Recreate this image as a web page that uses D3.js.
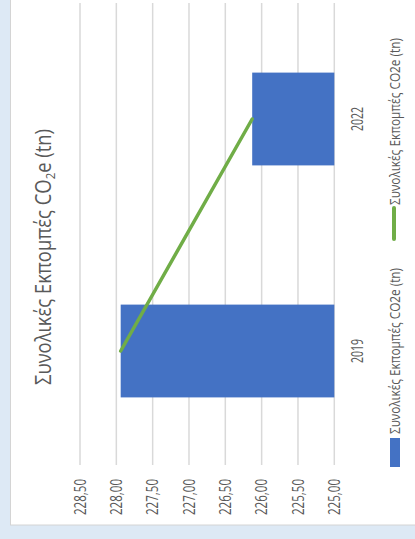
<!DOCTYPE html>
<html>
<head>
<meta charset="utf-8">
<script src="https://cdn.jsdelivr.net/npm/d3@7"></script>
<style>
  html, body { margin: 0; padding: 0; background: #dde9f5; }
  svg { display: block; }
  text { font-family: "Open Sans", "Noto Sans", sans-serif; fill: #595959; }
</style>
</head>
<body>
<div id="chart"></div>
<script>
// chart data (the picture is an Excel chart turned on its side)
const categories = ["2019", "2022"];
const barValues = [227.94, 226.13];
const lineValues = [227.94, 226.13];
const valueTicks = [225, 225.5, 226, 226.5, 227, 227.5, 228, 228.5];
const seriesName = "Συνολικές Εκπομπές CO2e (tn)";
const chartTitle = "Συνολικές Εκπομπές CO";

const W = 415, H = 539;

const svg = d3.select("#chart")
    .append("svg")
    .attr("width", W)
    .attr("height", H);

// white chart card
svg.append("rect")
    .attr("x", 10.5).attr("y", -5)
    .attr("width", 420).attr("height", 530)
    .attr("fill", "#ffffff")
    .attr("stroke", "#d4d4d4");

// value axis runs right -> left, categories bottom -> top
const x = d3.scaleLinear()
    .domain([225, 228.5])
    .range([334.3, 80]);

const y = d3.scaleBand()
    .domain(categories)
    .range([467, 3])
    .paddingInner(0.6)
    .paddingOuter(0.3);

const fmt = d3.formatLocale({decimal: ",", thousands: ".", grouping: [3], currency: ["", "€"]}).format(".2f");

// gridlines
svg.append("g").selectAll("line")
    .data(valueTicks)
    .join("line")
    .attr("x1", d => x(d)).attr("x2", d => x(d))
    .attr("y1", 3).attr("y2", 465)
    .attr("stroke", "#d9d9d9")
    .attr("stroke-width", 1.5);

// tick labels, rotated
svg.append("g").selectAll("text")
    .data(valueTicks)
    .join("text")
    .attr("transform", d => "translate(" + x(d) + ",515) rotate(-90)")
    .attr("dy", "0.36em")
    .attr("font-size", 16)
    .attr("textLength", 36)
    .attr("lengthAdjust", "spacingAndGlyphs")
    .text(d => fmt(d));

// bars
svg.append("g").selectAll("rect")
    .data(categories)
    .join("rect")
    .attr("x", (d, i) => x(barValues[i]))
    .attr("y", d => y(d))
    .attr("width", (d, i) => x(225) - x(barValues[i]))
    .attr("height", y.bandwidth())
    .attr("fill", "#4472c4");

// line series
const linePts = categories.map((c, i) => [x(lineValues[i]), y(c) + y.bandwidth() / 2]);
svg.append("path")
    .attr("d", d3.line()(linePts))
    .attr("fill", "none")
    .attr("stroke", "#70ad47")
    .attr("stroke-width", 3.5)
    .attr("stroke-linecap", "round");

// category labels
svg.append("g").selectAll("text")
    .data(categories)
    .join("text")
    .attr("transform", d => "translate(357," + (y(d) + y.bandwidth() / 2) + ") rotate(-90)")
    .attr("text-anchor", "middle")
    .attr("dy", "0.36em")
    .attr("font-size", 16)
    .attr("textLength", 24)
    .attr("lengthAdjust", "spacingAndGlyphs")
    .text(d => d);

// title
const title = svg.append("text")
    .attr("transform", "translate(51,385) rotate(-90)")
    .attr("font-size", 21)
    .attr("textLength", 256)
    .attr("lengthAdjust", "spacingAndGlyphs");
title.append("tspan").text(chartTitle);
title.append("tspan").attr("font-size", 13).attr("dy", 4).text("2");
title.append("tspan").attr("dy", -4).text("e (tn)");

// legend
svg.append("rect")
    .attr("x", 390).attr("y", 438)
    .attr("width", 10).attr("height", 29)
    .attr("fill", "#4472c4");
svg.append("text")
    .attr("transform", "translate(395,434) rotate(-90)")
    .attr("dy", "0.36em")
    .attr("font-size", 14)
    .attr("textLength", 166)
    .attr("lengthAdjust", "spacingAndGlyphs")
    .text(seriesName);

svg.append("line")
    .attr("x1", 394).attr("x2", 394)
    .attr("y1", 239).attr("y2", 208)
    .attr("stroke", "#70ad47")
    .attr("stroke-width", 4)
    .attr("stroke-linecap", "round");
svg.append("text")
    .attr("transform", "translate(395,205) rotate(-90)")
    .attr("dy", "0.36em")
    .attr("font-size", 14)
    .attr("textLength", 167)
    .attr("lengthAdjust", "spacingAndGlyphs")
    .text(seriesName);
</script>
</body>
</html>
